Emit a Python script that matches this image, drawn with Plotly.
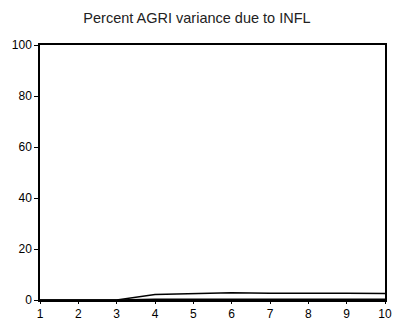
import plotly.graph_objects as go

# Forecast horizon (periods)
periods = [1, 2, 3, 4, 5, 6, 7, 8, 9, 10]
# Percent of AGRI forecast-error variance explained by INFL
upper_band = [0.0, 0.0, 0.0, 2.2, 2.5, 2.8, 2.6, 2.7, 2.6, 2.5]
lower_band = [0.0, 0.0, 0.0, 0.3, 0.3, 0.4, 0.3, 0.4, 0.3, 0.3]

y_ticks = [0, 20, 40, 60, 80, 100]

fig = go.Figure()
fig.add_trace(go.Scatter(x=periods, y=upper_band, mode="lines",
                         line=dict(color="black", width=1.5), showlegend=False))
fig.add_trace(go.Scatter(x=periods, y=lower_band, mode="lines",
                         line=dict(color="black", width=1.5), showlegend=False))

axis_font = dict(family="Liberation Sans, Arial, sans-serif", size=12, color="black")

fig.update_layout(
    width=394, height=321,
    margin=dict(l=40, r=9, t=45, b=21),
    paper_bgcolor="white", plot_bgcolor="white",
    title=dict(text="Percent AGRI variance due to INFL", x=0.5, xref="container",
               xanchor="center", y=0.945, yref="container", yanchor="middle",
               font=dict(family="Liberation Sans, Arial, sans-serif", size=14.5, color="#222")),
    xaxis=dict(range=[1, 10], tickvals=periods, ticks="outside", ticklen=2,
               tickcolor="black", showgrid=False, zeroline=False, automargin=False,
               showline=True, linecolor="black", linewidth=1.5, mirror=True,
               tickfont=axis_font),
    yaxis=dict(range=[0, 100], tickvals=y_ticks, ticks="outside", ticklen=4,
               tickcolor="black", showgrid=False, zeroline=False, automargin=False,
               showline=True, linecolor="black", linewidth=1.5, mirror=True,
               tickfont=axis_font),
)

fig.write_html("out.html")
